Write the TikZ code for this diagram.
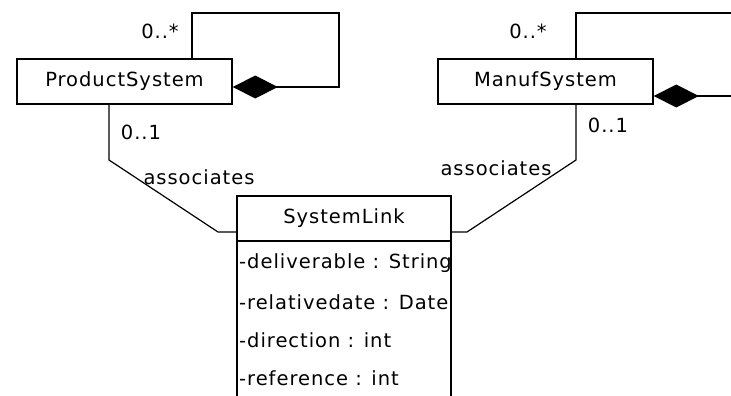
\documentclass[tikz,border=0pt]{standalone}
\usepackage{fontspec}
\newfontfamily\umlfont{DejaVu Sans}[LetterSpace=5]
\usetikzlibrary{positioning, arrows.meta}

\begin{document}
\begin{tikzpicture}[
    x=1pt, y=-1pt,
    font=\umlfont\fontsize{19.5}{22}\selectfont,
    classbox/.style={draw, line width=1.5pt, minimum width=215pt, minimum height=45pt, inner sep=0pt, fill=white},
    attr/.style={anchor=west, inner sep=0pt},
    assoc/.style={line width=1.2pt},
    whole/.style={line width=1.5pt, -{Diamond[length=45pt, width=23pt]}}
]
\useasboundingbox (0,0) rectangle (731,396);

% Classes
\node[classbox] (product) at (124.5,81.5) {ProductSystem};
\node[classbox] (manuf) at (545.5,81.5) {ManufSystem};
\node[classbox, minimum width=214pt] (link) at (344,218.5) {SystemLink};
\node[classbox, minimum width=214pt, minimum height=180pt, below=-1.5pt of link] (linkattr) {};

% Attributes
\node[attr] (deliv) at (239,263) {-deliverable : String};
\node[attr] (reldate) at (239,302) {-relativedate : Date};
\node[attr] (direct) at (239,340) {-direction : int};
\node[attr] (refer) at (239,378) {-reference : int};

% Self aggregations
\coordinate (productloop) at (339,13);
\coordinate (manufloop) at (760,13);
\draw[whole] ([xshift=67.5pt]product.north) |- (productloop) |- ([yshift=-5.5pt]product.east);
\draw[whole] ([xshift=30.5pt]manuf.north) |- (manufloop) |- ([yshift=-14.5pt]manuf.east);
\node (productmany) at (160,31) {0..*};
\node (manufmany) at (528,31) {0..*};

% Associations
\coordinate (productbend) at (109,160);
\coordinate (productfoot) at (218,232);
\coordinate (manufbend) at (576,160);
\coordinate (manuffoot) at (467,232);
\draw[assoc] ([xshift=-15.5pt]product.south) -- (productbend) -- (productfoot) -- ([yshift=-13.5pt]link.west);
\draw[assoc] ([xshift=30.5pt]manuf.south) -- (manufbend) -- (manuffoot) -- ([yshift=-13.5pt]link.east);
\node (productone) at (141,132) {0..1};
\node (manufone) at (608,125) {0..1};
\node (productname) at (199,177) {associates};
\node (manufname) at (496,168) {associates};

\end{tikzpicture}
\end{document}
